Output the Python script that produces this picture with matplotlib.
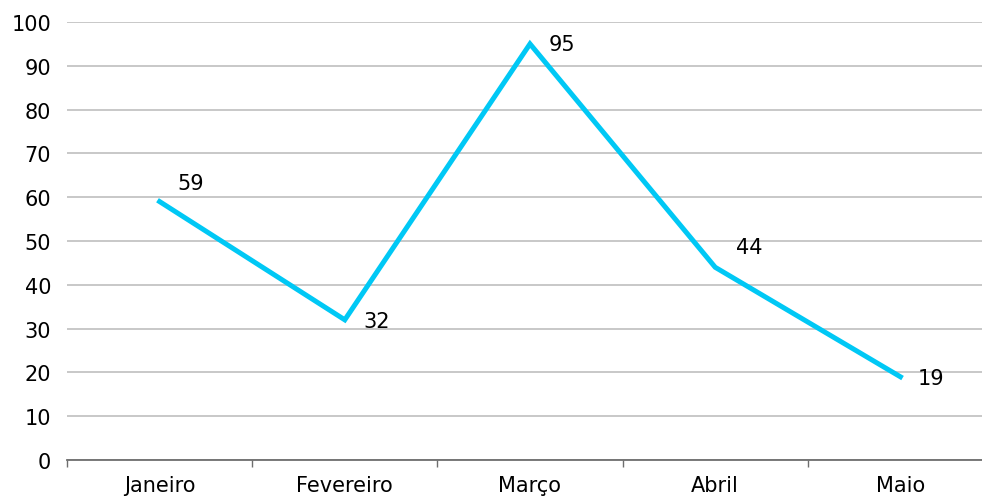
import matplotlib.pyplot as plt

meses = ["Janeiro", "Fevereiro", "Março", "Abril", "Maio"]
valores = [59, 32, 95, 44, 19]
# deslocamento dos rotulos em pixels (x, y)
desloc_x = [31, 32, 32, 34, 31]
desloc_y = [19, -1, 0, 20, -1]

fig = plt.figure(figsize=(9.82, 5.02), dpi=100)
ax = fig.add_axes([67 / 982, (502 - 461) / 502, (993 - 67) / 982, (461 - 23) / 502])

x = list(range(len(meses)))
ax.plot(x, valores, color="#00C8F5", linewidth=3.6, solid_joinstyle="miter", zorder=3)

for i, v in enumerate(valores):
    ax.annotate(str(v), (x[i], v), xytext=(desloc_x[i] * 0.72, desloc_y[i] * 0.72),
                textcoords="offset points", ha="center", va="center",
                fontsize=15, color="#000000")

ax.set_xlim(-0.5, len(meses) - 0.5)
ax.set_ylim(0, 100)
ax.set_yticks(range(0, 101, 10))
ax.set_xticks(x)
ax.set_xticklabels(meses)
ax.set_xticks([i - 0.5 for i in range(len(meses) + 1)], minor=True)

ax.grid(axis="y", color="#C4C4C4", linewidth=1.3)
ax.set_axisbelow(True)
for s in ["top", "right", "left"]:
    ax.spines[s].set_visible(False)
ax.spines["bottom"].set_color("#6E6E6E")
ax.spines["bottom"].set_linewidth(1.3)

ax.tick_params(axis="y", length=0, pad=11.5, labelsize=15)
ax.tick_params(axis="x", which="major", length=0, pad=11, labelsize=15)
ax.tick_params(axis="x", which="minor", length=5, width=1, color="#6E6E6E")

fig.savefig("out.png", dpi=100)
